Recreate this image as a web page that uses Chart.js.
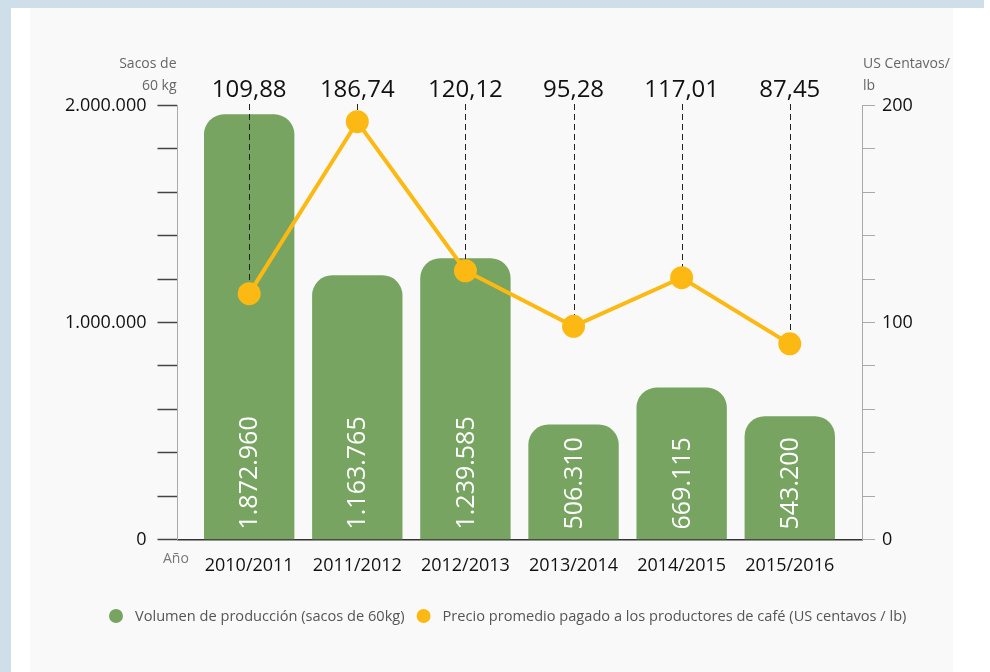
<!DOCTYPE html>
<html><head><meta charset="utf-8">
<script src="https://cdn.jsdelivr.net/npm/chart.js@4.4.1/dist/chart.umd.min.js"></script>
<style>
html,body{margin:0;padding:0;background:#fff;width:990px;height:672px;overflow:hidden;}
#blueTop{position:absolute;left:0;top:0;width:984px;height:8px;background:#cfdfe9;}
#blueLeft{position:absolute;left:0;top:0;width:11px;height:672px;background:#cfdfe9;}
#panel{position:absolute;left:30px;top:8px;width:923px;height:664px;background:#f9f9f9;}
canvas{position:absolute;left:0;top:0;}
</style></head><body>
<div id="blueTop"></div><div id="blueLeft"></div><div id="panel"></div>
<canvas id="c" width="990" height="672"></canvas>
<script>
const categories = ['2010/2011','2011/2012','2012/2013','2013/2014','2014/2015','2015/2016'];
const production = [1872960, 1163765, 1239585, 506310, 669115, 543200];
const price = [109.88, 186.74, 120.12, 95.28, 117.01, 87.45];
const leftTickLabels = [0, 1000000, 2000000];
const rightTickLabels = [0, 100, 200];
const seriesNames = ['Volumen de producción (sacos de 60kg)', 'Precio promedio pagado a los productores de café (US centavos / lb)'];
const leftUnit = ['Sacos de', '60 kg'];
const rightUnit = ['US Centavos/', 'lb'];
const xAxisName = 'Año';

const FONT = '"Open Sans", "Noto Sans", sans-serif';
const GREEN = '#77a461';
const YELLOW = '#fdb913';

const fmtThousands = n => String(n).replace(/\B(?=(\d{3})+(?!\d))/g, '.');
const fmtDec = n => n.toFixed(2).replace('.', ',');

const annot = {
  id: 'annot',
  afterDatasetDraw(chart, args) {
    if (args.index !== 0) return;
    const ctx = chart.ctx;
    const pts = chart.getDatasetMeta(1).data;
    const top = chart.chartArea.top - 1.5;
    ctx.save();
    ctx.strokeStyle = '#222';
    ctx.lineWidth = 1;
    ctx.setLineDash([6, 4]);
    pts.forEach(p => {
      const x = Math.round(p.x) + 0.5;
      ctx.beginPath();
      ctx.moveTo(x, top);
      ctx.lineTo(x, p.y - 10);
      ctx.stroke();
    });
    ctx.restore();
  },
  afterDatasetsDraw(chart) {
    const ctx = chart.ctx;
    const bars = chart.getDatasetMeta(0).data;
    ctx.save();
    ctx.fillStyle = '#ffffff';
    ctx.font = '25px ' + FONT;
    ctx.textAlign = 'left';
    ctx.textBaseline = 'middle';
    bars.forEach((b, i) => {
      ctx.save();
      ctx.translate(b.x + 1, b.base - 10);
      ctx.rotate(-Math.PI / 2);
      ctx.fillText(fmtThousands(production[i]), 0, 0);
      ctx.restore();
    });
    const pts = chart.getDatasetMeta(1).data;
    ctx.fillStyle = '#111';
    ctx.font = '24px ' + FONT;
    ctx.textAlign = 'center';
    ctx.textBaseline = 'alphabetic';
    pts.forEach((p, i) => {
      ctx.fillText(fmtDec(price[i]), p.x, chart.chartArea.top - 9);
    });
    ctx.restore();
  },
  afterDraw(chart) {
    const ctx = chart.ctx;
    const ca = chart.chartArea;
    ctx.save();
    ctx.font = '14px ' + FONT;
    ctx.fillStyle = '#666';
    ctx.textBaseline = 'alphabetic';
    ctx.textAlign = 'right';
    ctx.fillText(leftUnit[0], ca.left - 1, 68);
    ctx.fillText(leftUnit[1], ca.left - 1, 90);
    ctx.textAlign = 'left';
    ctx.fillText(rightUnit[0], ca.right + 1, 68);
    ctx.fillText(rightUnit[1], ca.right + 1, 90);
    ctx.fillStyle = '#777';
    ctx.fillText(xAxisName, 163, 563);
    // legend
    ctx.font = '14.6px ' + FONT;
    ctx.textBaseline = 'middle';
    let cx = 116;
    const ly = 616;
    chart.data.datasets.forEach(ds => {
      ctx.fillStyle = ds.type === 'line' ? ds.borderColor : ds.backgroundColor;
      ctx.beginPath();
      ctx.arc(cx, ly, 7, 0, Math.PI * 2);
      ctx.fill();
      ctx.fillStyle = '#555';
      ctx.fillText(ds.label, cx + 19, ly + 1);
      cx = cx + 19 + ctx.measureText(ds.label).width + 19;
    });
    ctx.restore();
  }
};

new Chart(document.getElementById('c'), {
  type: 'bar',
  data: {
    datasets: [
      {
        type: 'bar',
        label: seriesNames[0],
        data: production.map((v, i) => ({ x: i, y: v })),
        xAxisID: 'x',
        yAxisID: 'yBar',
        backgroundColor: GREEN,
        borderRadius: { topLeft: 20, topRight: 20, bottomLeft: 0, bottomRight: 0 },
        borderSkipped: false,
        categoryPercentage: 1,
        barPercentage: 0.836,
        order: 1
      },
      {
        type: 'line',
        label: seriesNames[1],
        data: price.map((v, i) => ({ x: i, y: v })),
        xAxisID: 'x',
        yAxisID: 'yLine',
        borderColor: YELLOW,
        backgroundColor: YELLOW,
        borderWidth: 4,
        pointRadius: 11.5,
        pointBackgroundColor: YELLOW,
        pointBorderColor: YELLOW,
        pointBorderWidth: 0,
        tension: 0,
        fill: false,
        order: 0
      }
    ]
  },
  options: {
    responsive: false,
    animation: false,
    devicePixelRatio: 1,
    events: [],
    layout: { padding: { top: 105.5, left: 0, right: 0, bottom: 0 } },
    plugins: { legend: { display: false }, tooltip: { enabled: false } },
    scales: {
      x: {
        type: 'linear',
        position: 'bottom',
        offset: false,
        min: -0.663,
        max: 5.668,
        z: 1,
        afterBuildTicks: s => { s.ticks = categories.map((_, i) => ({ value: i })); },
        afterFit: s => { s.height = 132.5; },
        grid: { display: false, offset: false },
        border: { display: true, color: '#333', width: 1.5 },
        ticks: {
          autoSkip: false, maxRotation: 0, minRotation: 0, padding: 8,
          font: { family: FONT, size: 18 }, color: '#111',
          callback: v => categories[v] !== undefined ? categories[v] : ''
        }
      },
      y: {
        position: 'left',
        min: 0, max: 2000000,
        afterFit: s => { s.width = 177.5; },
        grid: { drawOnChartArea: false, drawTicks: true, tickLength: 20, tickColor: '#444', tickWidth: 1.5, color: '#444' },
        border: { display: true, color: '#aaa', width: 1 },
        ticks: {
          stepSize: 200000, autoSkip: false, padding: 11,
          font: { family: FONT, size: 18 }, color: '#111',
          callback: v => leftTickLabels.includes(v) ? fmtThousands(v) : ''
        }
      },
      yR: {
        position: 'right',
        min: 0, max: 200,
        afterFit: s => { s.width = 128; },
        grid: { drawOnChartArea: false, drawTicks: true, tickLength: 13, tickColor: '#aaa', tickWidth: 1, color: '#aaa' },
        border: { display: true, color: '#aaa', width: 1 },
        ticks: {
          stepSize: 20, autoSkip: false, padding: 7,
          font: { family: FONT, size: 18 }, color: '#111',
          callback: v => rightTickLabels.includes(v) ? String(v) : ''
        }
      },
      yBar: { display: false, min: 0, max: 1912000 },
      yLine: { display: false, min: 0, max: 194 }
    }
  },
  plugins: [annot]
});
</script>
</body></html>
